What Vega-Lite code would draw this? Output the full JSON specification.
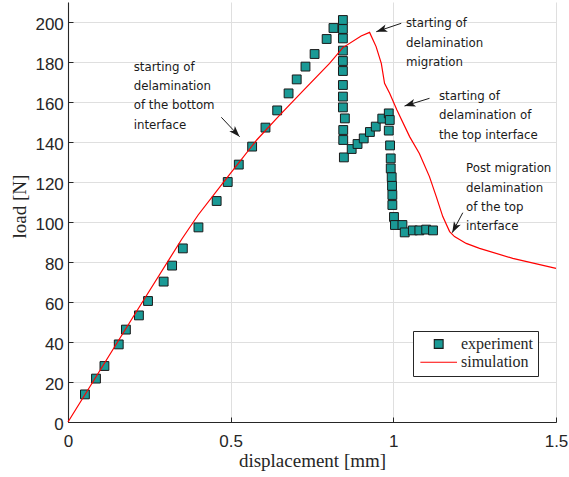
{
  "$schema": "https://vega.github.io/schema/vega-lite/v6.json",
  "width": 488,
  "height": 420,
  "autosize": {"type": "none"},
  "padding": {"left": 68, "top": 2, "right": 13, "bottom": 55},
  "background": "white",
  "config": {
    "view": {"stroke": null},
    "axis": {
      "domainColor": "#262626",
      "domainWidth": 1.1,
      "tickColor": "#262626",
      "tickSize": -5,
      "tickWidth": 1,
      "gridColor": "#dfdfdf",
      "gridWidth": 1,
      "labelFont": "Liberation Sans",
      "labelFontSize": 17,
      "labelColor": "#262626",
      "titleFont": "Liberation Serif",
      "titleFontSize": 19,
      "titleFontWeight": "normal",
      "titleColor": "#262626",
      "labelFlush": false,
      "labelOverlap": false
    },
    "axisX": {"labelPadding": 16.7, "titleY": 44.7, "titleBaseline": "alphabetic"},
    "axisY": {"labelPadding": 9.7, "labelOffset": 2, "titleX": -42.8, "titleY": 204, "titleBaseline": "alphabetic"}
  },
  "datasets": {
    "experiment": [
      {"x": 0.052, "y": 13.8, "series": "experiment"},
      {"x": 0.086, "y": 21.7, "series": "experiment"},
      {"x": 0.112, "y": 28.0, "series": "experiment"},
      {"x": 0.156, "y": 38.8, "series": "experiment"},
      {"x": 0.178, "y": 46.2, "series": "experiment"},
      {"x": 0.218, "y": 53.3, "series": "experiment"},
      {"x": 0.246, "y": 60.5, "series": "experiment"},
      {"x": 0.294, "y": 70.2, "series": "experiment"},
      {"x": 0.320, "y": 78.2, "series": "experiment"},
      {"x": 0.353, "y": 86.8, "series": "experiment"},
      {"x": 0.401, "y": 97.3, "series": "experiment"},
      {"x": 0.457, "y": 110.5, "series": "experiment"},
      {"x": 0.491, "y": 120.0, "series": "experiment"},
      {"x": 0.525, "y": 128.7, "series": "experiment"},
      {"x": 0.566, "y": 137.7, "series": "experiment"},
      {"x": 0.607, "y": 147.2, "series": "experiment"},
      {"x": 0.643, "y": 155.8, "series": "experiment"},
      {"x": 0.678, "y": 164.3, "series": "experiment"},
      {"x": 0.703, "y": 171.3, "series": "experiment"},
      {"x": 0.730, "y": 177.7, "series": "experiment"},
      {"x": 0.758, "y": 184.0, "series": "experiment"},
      {"x": 0.795, "y": 191.5, "series": "experiment"},
      {"x": 0.816, "y": 197.0, "series": "experiment"},
      {"x": 0.845, "y": 201.0, "series": "experiment"},
      {"x": 0.845, "y": 196.5, "series": "experiment"},
      {"x": 0.845, "y": 191.8, "series": "experiment"},
      {"x": 0.845, "y": 185.7, "series": "experiment"},
      {"x": 0.845, "y": 180.5, "series": "experiment"},
      {"x": 0.845, "y": 175.5, "series": "experiment"},
      {"x": 0.845, "y": 168.5, "series": "experiment"},
      {"x": 0.845, "y": 162.7, "series": "experiment"},
      {"x": 0.845, "y": 157.3, "series": "experiment"},
      {"x": 0.851, "y": 151.8, "series": "experiment"},
      {"x": 0.846, "y": 146.0, "series": "experiment"},
      {"x": 0.846, "y": 141.0, "series": "experiment"},
      {"x": 0.848, "y": 132.3, "series": "experiment"},
      {"x": 0.872, "y": 136.5, "series": "experiment"},
      {"x": 0.890, "y": 139.0, "series": "experiment"},
      {"x": 0.909, "y": 141.8, "series": "experiment"},
      {"x": 0.928, "y": 145.0, "series": "experiment"},
      {"x": 0.946, "y": 147.7, "series": "experiment"},
      {"x": 0.966, "y": 151.7, "series": "experiment"},
      {"x": 0.986, "y": 154.3, "series": "experiment"},
      {"x": 0.989, "y": 151.0, "series": "experiment"},
      {"x": 0.986, "y": 145.7, "series": "experiment"},
      {"x": 0.990, "y": 138.3, "series": "experiment"},
      {"x": 0.992, "y": 131.8, "series": "experiment"},
      {"x": 0.992, "y": 126.8, "series": "experiment"},
      {"x": 0.995, "y": 122.4, "series": "experiment"},
      {"x": 0.996, "y": 118.1, "series": "experiment"},
      {"x": 0.997, "y": 113.5, "series": "experiment"},
      {"x": 0.997, "y": 108.5, "series": "experiment"},
      {"x": 1.002, "y": 102.5, "series": "experiment"},
      {"x": 1.005, "y": 98.5, "series": "experiment"},
      {"x": 1.028, "y": 98.5, "series": "experiment"},
      {"x": 1.035, "y": 94.8, "series": "experiment"},
      {"x": 1.060, "y": 95.8, "series": "experiment"},
      {"x": 1.080, "y": 95.8, "series": "experiment"},
      {"x": 1.101, "y": 96.2, "series": "experiment"},
      {"x": 1.122, "y": 95.8, "series": "experiment"}
    ],
    "simulation": [
      {"x": 0.0, "y": 0.0, "series": "simulation"},
      {"x": 0.2, "y": 52.5, "series": "simulation"},
      {"x": 0.35, "y": 91.5, "series": "simulation"},
      {"x": 0.4, "y": 103.5, "series": "simulation"},
      {"x": 0.48, "y": 120.3, "series": "simulation"},
      {"x": 0.58, "y": 141.0, "series": "simulation"},
      {"x": 0.65, "y": 153.3, "series": "simulation"},
      {"x": 0.72, "y": 165.2, "series": "simulation"},
      {"x": 0.804, "y": 179.3, "series": "simulation"},
      {"x": 0.845, "y": 187.2, "series": "simulation"},
      {"x": 0.901, "y": 193.0, "series": "simulation"},
      {"x": 0.927, "y": 194.8, "series": "simulation"},
      {"x": 0.947, "y": 187.7, "series": "simulation"},
      {"x": 0.963, "y": 179.3, "series": "simulation"},
      {"x": 0.973, "y": 169.3, "series": "simulation"},
      {"x": 0.989, "y": 164.3, "series": "simulation"},
      {"x": 1.011, "y": 156.0, "series": "simulation"},
      {"x": 1.05, "y": 142.7, "series": "simulation"},
      {"x": 1.08, "y": 134.3, "series": "simulation"},
      {"x": 1.111, "y": 122.7, "series": "simulation"},
      {"x": 1.132, "y": 112.7, "series": "simulation"},
      {"x": 1.152, "y": 102.7, "series": "simulation"},
      {"x": 1.173, "y": 95.2, "series": "simulation"},
      {"x": 1.188, "y": 92.7, "series": "simulation"},
      {"x": 1.224, "y": 89.3, "series": "simulation"},
      {"x": 1.265, "y": 86.8, "series": "simulation"},
      {"x": 1.367, "y": 81.8, "series": "simulation"},
      {"x": 1.5, "y": 76.8, "series": "simulation"}
    ],
    "notes": [
      {"id": 1, "lines": ["starting of", "delamination", "of the bottom", "interface"], "tx": 0.202, "ty": 177.65, "ax": 0.4713, "ay": 152.35, "bx": 0.5275, "by": 142.65},
      {"id": 2, "lines": ["starting of", "delamination", "migration"], "tx": 1.0388, "ty": 199.35, "ax": 1.0243, "ay": 199.35, "bx": 0.9475, "by": 195.15},
      {"id": 3, "lines": ["starting of", "delamination of", "the top interface"], "tx": 1.1403, "ty": 163.0, "ax": 1.1112, "ay": 161.85, "bx": 1.0344, "by": 158.0},
      {"id": 4, "lines": ["Post migration", "delamination", "of the top", "interface"], "tx": 1.2233, "ty": 126.85, "ax": 1.2135, "ay": 104.65, "bx": 1.181, "by": 94.65}
    ]
  },
  "layer": [
    {
      "data": {"name": "experiment"},
      "mark": {"type": "point", "filled": true, "size": 78, "fill": "#1A9A96", "strokeWidth": 1, "opacity": 1},
      "encoding": {
        "x": {"field": "x", "type": "quantitative", "scale": {"domain": [0, 1.5], "nice": false, "zero": false},
              "axis": {"values": [0, 0.5, 1, 1.5], "format": "~g", "title": "displacement [mm]"}},
        "y": {"field": "y", "type": "quantitative", "scale": {"domain": [0, 210], "nice": false, "zero": false},
              "axis": {"values": [0, 20, 40, 60, 80, 100, 120, 140, 160, 180, 200], "title": "load [N]"}},
        "stroke": {
          "field": "series", "type": "nominal",
          "scale": {"domain": ["experiment", "simulation"], "range": ["#1a1a1a", "#FF0000"]},
          "legend": null
        },
        "shape": {
          "field": "series", "type": "nominal",
          "scale": {"domain": ["experiment", "simulation"], "range": ["square", "M-4.15,0L4.15,0"]},
          "legend": {
            "title": null, "orient": "none", "legendX": 345, "legendY": 329,
            "padding": 5, "strokeColor": "#262626", "fillColor": "white", "cornerRadius": 0,
            "labelFont": "Liberation Serif", "labelFontSize": 16, "labelColor": "#262626",
            "symbolOffset": 12.7, "labelOffset": 14.3, "rowPadding": 2.3,
            "symbolSize": 78, "symbolStrokeWidth": 1.1,
            "encode": {
              "symbols": {
                "stroke": {"condition": {"test": "datum.label === 'experiment'", "value": "#1a1a1a"}, "value": "#FF0000"},
                "opacity": {"value": 1}
              }
            }
          }
        }
      }
    },
    {
      "data": {"name": "simulation"},
      "mark": {"type": "line", "strokeWidth": 1.2, "color": "#FF0000"},
      "encoding": {
        "x": {"field": "x", "type": "quantitative"},
        "y": {"field": "y", "type": "quantitative"}
      }
    },
    {
      "data": {"name": "notes"},
      "mark": {"type": "rule", "color": "#1a1a1a", "strokeWidth": 1},
      "encoding": {
        "x": {"field": "ax", "type": "quantitative"},
        "y": {"field": "ay", "type": "quantitative"},
        "x2": {"field": "bx"},
        "y2": {"field": "by"}
      }
    },
    {
      "data": {"name": "notes"},
      "transform": [{"filter": "datum.id == 1"}],
      "mark": {"type": "point", "shape": "M0,0L-0.7,2L0,1.5L0.7,2Z", "size": 121, "angle": 136.7, "filled": true, "color": "#1a1a1a", "opacity": 1},
      "encoding": {"x": {"field": "bx", "type": "quantitative"}, "y": {"field": "by", "type": "quantitative"}}
    },
    {
      "data": {"name": "notes"},
      "transform": [{"filter": "datum.id == 2"}],
      "mark": {"type": "point", "shape": "M0,0L-0.7,2L0,1.5L0.7,2Z", "size": 121, "angle": 251.4, "filled": true, "color": "#1a1a1a", "opacity": 1},
      "encoding": {"x": {"field": "bx", "type": "quantitative"}, "y": {"field": "by", "type": "quantitative"}}
    },
    {
      "data": {"name": "notes"},
      "transform": [{"filter": "datum.id == 3"}],
      "mark": {"type": "point", "shape": "M0,0L-0.7,2L0,1.5L0.7,2Z", "size": 121, "angle": 252.9, "filled": true, "color": "#1a1a1a", "opacity": 1},
      "encoding": {"x": {"field": "bx", "type": "quantitative"}, "y": {"field": "by", "type": "quantitative"}}
    },
    {
      "data": {"name": "notes"},
      "transform": [{"filter": "datum.id == 4"}],
      "mark": {"type": "point", "shape": "M0,0L-0.7,2L0,1.5L0.7,2Z", "size": 121, "angle": 207.9, "filled": true, "color": "#1a1a1a", "opacity": 1},
      "encoding": {"x": {"field": "bx", "type": "quantitative"}, "y": {"field": "by", "type": "quantitative"}}
    },
    {
      "data": {"name": "notes"},
      "mark": {"type": "text", "font": "DejaVu Sans", "fontSize": 11.8, "lineHeight": 19.4, "align": "left", "baseline": "middle", "color": "#1a1a1a"},
      "encoding": {
        "x": {"field": "tx", "type": "quantitative"},
        "y": {"field": "ty", "type": "quantitative"},
        "text": {"field": "lines"}
      }
    }
  ]
}
